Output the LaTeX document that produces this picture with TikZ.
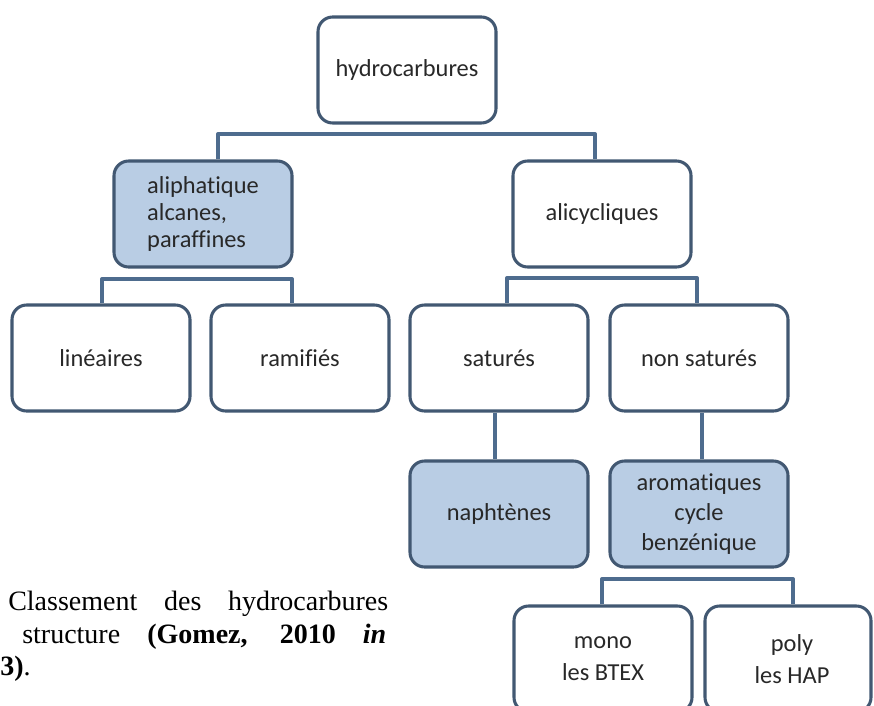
\documentclass[tikz,border=0pt]{standalone}
\usepackage{fontspec}
\setmainfont{Liberation Serif}
\newfontfamily\boxfont[Ligatures={NoCommon,NoRare,NoDiscretionary}]{Carlito}
\definecolor{bordc}{RGB}{66,88,114}
\definecolor{connc}{RGB}{78,108,142}
\definecolor{fillc}{RGB}{185,205,228}
\definecolor{txtc}{RGB}{40,40,40}
\tikzset{
  boxnode/.style={draw=bordc, line width=2.3pt, rounded corners=11pt, fill=white,
    minimum width=133.5pt, minimum height=79.5pt, inner sep=0pt,
    font=\boxfont\fontsize{18.3}{22.5}\selectfont, text=txtc, align=center},
  shadedbox/.style={fill=fillc},
  conn/.style={draw=connc, line width=3pt, line join=round},
  captxt/.style={anchor=base west, inner sep=0pt, font=\fontsize{21}{25}\selectfont},
}
\begin{document}
\begin{tikzpicture}[x=0.75pt,y=-0.75pt]
\useasboundingbox (0,0) rectangle (874,706);
\clip (0,0) rectangle (874,706);
\fill[white] (0,0) rectangle (874,706);

% boxes
\node[boxnode] (hyd) at (407,70) {hydrocarbures};
\node[boxnode, shadedbox, font=\boxfont\fontsize{18.3}{20.6}\selectfont, align=left] (ali) at (203,214) {aliphatique\\alcanes,\\paraffines};
\node[boxnode] (alicy) at (602,214) {alicycliques};
\node[boxnode] (lin) at (101,358) {linéaires};
\node[boxnode] (ram) at (300,358) {ramifiés};
\node[boxnode] (sat) at (499,358) {saturés};
\node[boxnode] (nsat) at (699,358) {non saturés};
\node[boxnode, shadedbox] (naph) at (499,514) {naphtènes};
\node[boxnode, shadedbox] (arom) at (699,514) {aromatiques\\cycle\\benzénique};
\node[boxnode, font=\boxfont\fontsize{18.3}{23.8}\selectfont] (mono) at (603,659) {mono\\les BTEX};
\node[boxnode, minimum width=124.5pt, font=\boxfont\fontsize{18.3}{23.8}\selectfont] (poly) at (788,659) {\hspace*{6pt}poly\\\hspace*{6pt}les HAP};

% connectors
\coordinate (b1l) at (218,134);
\coordinate (b1r) at (595,134);
\draw[conn] (ali.north -| b1l) -- (b1l) -- (b1r) -- (alicy.north -| b1r);

\coordinate (b2l) at (102,279);
\coordinate (b2r) at (292,279);
\draw[conn] (lin.north -| b2l) -- (b2l) -- (b2r) -- (ram.north -| b2r);

\coordinate (b3l) at (507,278);
\coordinate (b3r) at (697,278);
\draw[conn] (sat.north -| b3l) -- (b3l) -- (b3r) -- (nsat.north -| b3r);

\coordinate (v1) at (495,0);
\draw[conn] (sat.south -| v1) -- (naph.north -| v1);
\coordinate (v2) at (702,0);
\draw[conn] (nsat.south -| v2) -- (arom.north -| v2);

\coordinate (b4l) at (602,579);
\coordinate (b4r) at (793,579);
\draw[conn] (mono.north -| b4l) -- (b4l) -- (b4r) -- (poly.north -| b4r);

% caption
\node[captxt] (cap1) at (8,610) {\makebox[285pt][s]{Classement des hydrocarbures}};
\node[captxt] (cap2) at (22,643) {\makebox[273pt][s]{structure \textbf{(Gomez, 2010 \textit{in}}}};
\node[captxt] (cap3) at (0,675) {\textbf{3)}.};
\end{tikzpicture}
\end{document}
